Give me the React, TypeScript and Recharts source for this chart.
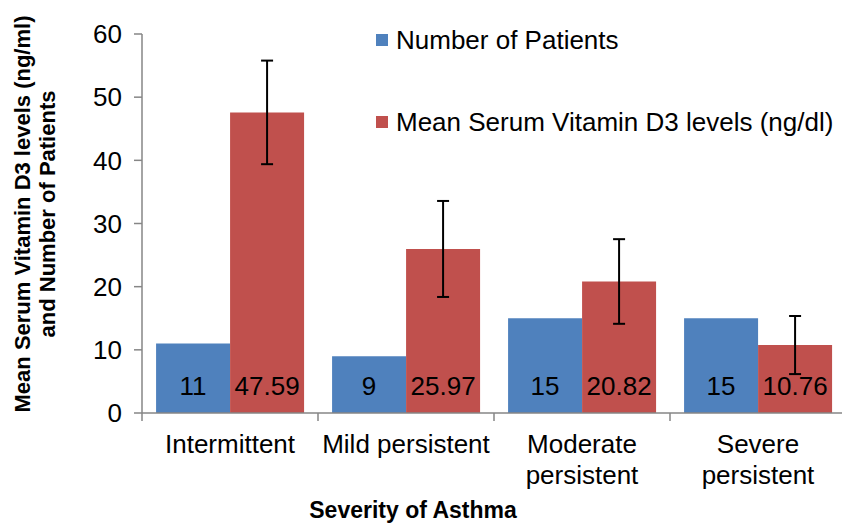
import { BarChart, Bar, XAxis, YAxis, ErrorBar, LabelList, Legend } from 'recharts'

const severity = ['Intermittent', 'Mild persistent', 'Moderate\npersistent', 'Severe\npersistent']
const patients = [11, 9, 15, 15]
const vitaminD3 = [47.59, 25.97, 20.82, 10.76]
const vitaminD3Err = [8.2, 7.6, 6.7, 4.6]
const yTicks = [0, 10, 20, 30, 40, 50, 60]

const legendItems = [
  { name: 'Number of Patients', color: '#4F81BD' },
  { name: 'Mean Serum Vitamin D3 levels (ng/dl)', color: '#C0504D' },
]

const data = severity.map((name, i) => ({
  name,
  patients: patients[i],
  vitd: vitaminD3[i],
  err: vitaminD3Err[i],
}))

const font = '"Liberation Sans", Arial, sans-serif'
const axisGray = '#868686'

function SeverityTick(props: any) {
  const { x, y, payload, index, visibleTicksCount } = props
  const half = payload.offset || 0
  const lines = String(payload.value).split('\n')
  return (
    <g>
      <line x1={x - half} y1={y} x2={x - half} y2={y + 8} stroke={axisGray} strokeWidth={1.5} />
      {index === visibleTicksCount - 1 && (
        <line x1={x + half} y1={y} x2={x + half} y2={y + 8} stroke={axisGray} strokeWidth={1.5} />
      )}
      {lines.map((line, i) => (
        <text key={i} x={x} y={y + 40 + i * 31} textAnchor="middle" fontSize={26} fontFamily={font} fill="#000">
          {line}
        </text>
      ))}
    </g>
  )
}

function InsideBottomLabel(props: any) {
  const { x, y, width, height, value } = props
  return (
    <text x={x + width / 2} y={y + height - 18} textAnchor="middle" fontSize={26} fontFamily={font} fill="#000">
      {value}
    </text>
  )
}

function LegendBox() {
  return (
    <div style={{ position: 'relative', width: 466, height: 120, fontFamily: font, fontSize: 26, color: '#000' }}>
      {legendItems.map((item, i) => (
        <div
          key={item.name}
          style={{ position: 'absolute', left: 0, top: i * 82, height: 36, display: 'flex', alignItems: 'center', whiteSpace: 'nowrap' }}
        >
          <span style={{ display: 'inline-block', width: 12, height: 12, background: item.color, marginRight: 8 }} />
          <span>{item.name}</span>
        </div>
      ))}
    </div>
  )
}

export default function App() {
  return (
    <div style={{ position: 'absolute', left: 0, top: 0, width: 842, height: 523, overflow: 'hidden', background: '#fff' }}>
      <BarChart
        width={846}
        height={523}
        data={data}
        margin={{ top: 34, right: 0, bottom: 0, left: 0 }}
        barCategoryGap="8%"
        barGap={0}
      >
        <XAxis
          dataKey="name"
          height={110}
          interval={0}
          axisLine={{ stroke: axisGray, strokeWidth: 1.5 }}
          tickLine={false}
          tickSize={0}
          tickMargin={0}
          tick={<SeverityTick />}
          label={{
            content: () => (
              <text x={413} y={518} textAnchor="middle" fontSize={23} fontWeight="bold" fontFamily={font} fill="#000">
                Severity of Asthma
              </text>
            ),
          }}
        />
        <YAxis
          width={142}
          domain={[0, 60]}
          ticks={yTicks}
          interval={0}
          axisLine={{ stroke: axisGray, strokeWidth: 1.5 }}
          tickLine={{ stroke: axisGray, strokeWidth: 1.5 }}
          tickSize={8}
          tickMargin={12}
          tick={{ fontSize: 26, fontFamily: font, fill: '#000' }}
          label={{
            content: () => (
              <g transform="translate(0,214) rotate(-90)">
                <text x={0} y={30} textAnchor="middle" fontSize={22} fontWeight="bold" fontFamily={font} fill="#000">
                  Mean Serum Vitamin D3 levels (ng/ml)
                </text>
                <text x={0} y={55} textAnchor="middle" fontSize={22} fontWeight="bold" fontFamily={font} fill="#000">
                  and Number of Patients
                </text>
              </g>
            ),
          }}
        />
        <Legend
          layout="vertical"
          align="center"
          verticalAlign="middle"
          wrapperStyle={{ top: 22, left: 376, width: 466 }}
          content={() => <LegendBox />}
        />
        <Bar dataKey="patients" name="Number of Patients" fill="#4F81BD" isAnimationActive={false}>
          <LabelList dataKey="patients" content={<InsideBottomLabel />} />
        </Bar>
        <Bar dataKey="vitd" name="Mean Serum Vitamin D3 levels (ng/dl)" fill="#C0504D" isAnimationActive={false}>
          <ErrorBar dataKey="err" width={6} stroke="#000" strokeWidth={2} direction="y" />
          <LabelList dataKey="vitd" content={<InsideBottomLabel />} />
        </Bar>
      </BarChart>
    </div>
  )
}
